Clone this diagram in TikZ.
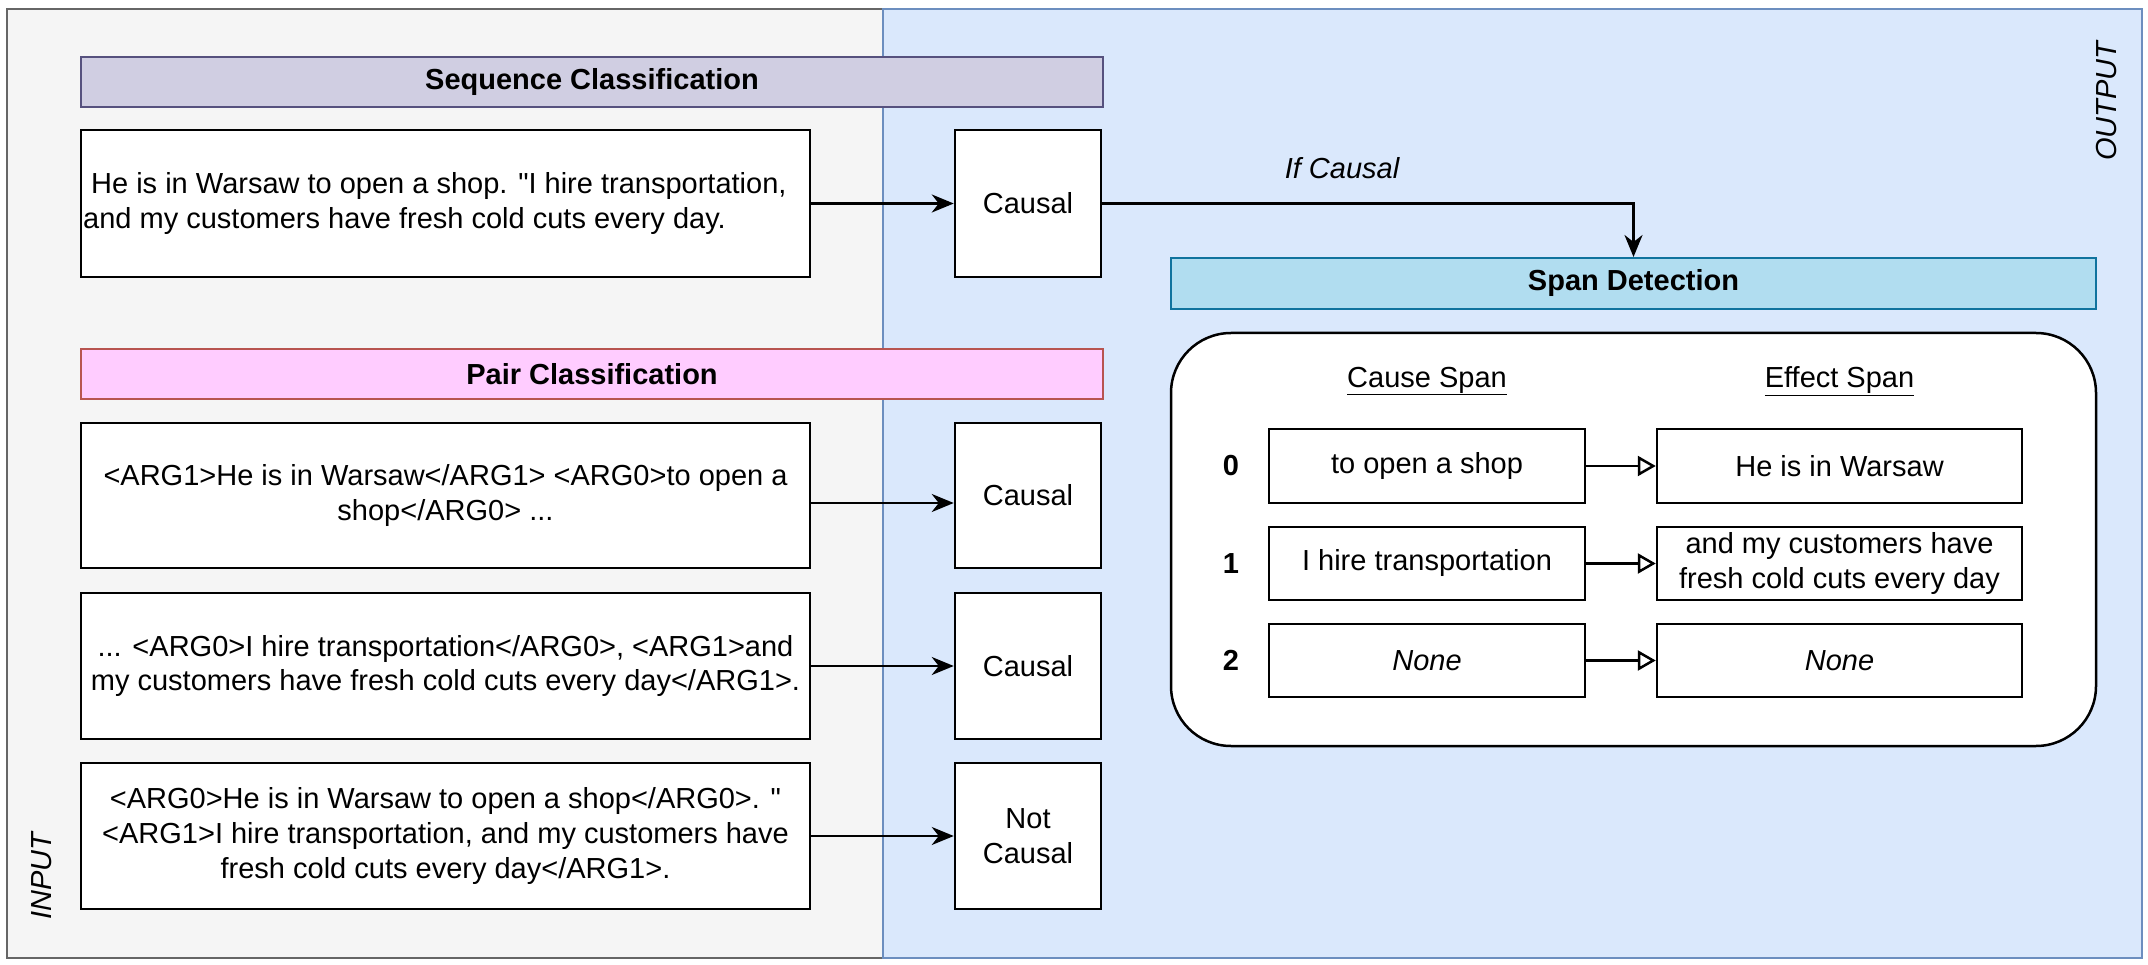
\documentclass[tikz,border=0pt]{standalone}
\usepackage{fontspec}
\setmainfont{Liberation Sans}[Ligatures=TeXOff]
\usetikzlibrary{arrows.meta}
\definecolor{grayfill}{HTML}{F5F5F5}
\definecolor{grayline}{HTML}{666666}
\definecolor{bluefill}{HTML}{DAE8FC}
\definecolor{blueline}{HTML}{6C8EBF}
\definecolor{seqfill}{HTML}{D0CEE2}
\definecolor{seqline}{HTML}{56517E}
\definecolor{pairfill}{HTML}{FFCCFF}
\definecolor{pairline}{HTML}{B85450}
\definecolor{spanfill}{HTML}{B1DDF0}
\definecolor{spanline}{HTML}{10739E}
\begin{document}
\begin{tikzpicture}[x=1pt,y=-1pt,
  txt/.style={font=\fontsize{29}{35}\selectfont, text=black},
  box/.style={txt, draw=black, line width=2.5pt, fill=white, inner sep=0pt, align=center},
  bar/.style={txt, font=\fontsize{29}{35}\selectfont\bfseries, line width=2pt, inner sep=0pt},
  arr/.style={line width=2.5pt, -{Stealth[length=22pt,width=18pt,inset=7pt]}},
  oarr/.style={line width=2.5pt, -{Triangle[open,length=18pt,width=20pt,line width=2.5pt]}}
]
\useasboundingbox (0,0) rectangle (2148,965);
% panels
\node[draw=grayline, fill=grayfill, line width=2pt, minimum width=876pt, minimum height=949pt, inner sep=0pt] (inpanel) at (445,483.5) {};
\node[draw=blueline, fill=bluefill, line width=2pt, minimum width=1259pt, minimum height=949pt, inner sep=0pt] (outpanel) at (1512.5,483.5) {};
\node[txt, font=\fontsize{29}{35}\selectfont\itshape, rotate=90] (inlbl) at (42,876) {INPUT};
\node[txt, font=\fontsize{29}{35}\selectfont\itshape, rotate=90] (outlbl) at (2106,101) {OUTPUT};
% bars
\node[bar, draw=seqline, fill=seqfill, minimum width=1022pt, minimum height=50pt] (seqbar) at (592,82) {Sequence Classification};
\node[bar, draw=pairline, fill=pairfill, minimum width=1022pt, minimum height=50pt] (pairbar) at (592,374) {Pair Classification};
\node[bar, draw=spanline, fill=spanfill, minimum width=925pt, minimum height=51pt] (spanbar) at (1633.5,283.5) {Span Detection};
% sequence classification
\node[box, minimum width=729pt, minimum height=147pt] (s1) at (445.5,203.5) {};
\node[txt, align=left, anchor=west, inner sep=0pt] (s1t) at (83,204) {\hspace{8pt}He is in Warsaw to open a shop. "I hire transportation,\\and my customers have fresh cold cuts every day.};
\node[box, minimum width=146pt, minimum height=147pt] (c0) at (1028,203.5) {Causal};
\draw[arr] (s1) -- (c0);
% pair classification
\node[box, minimum width=729pt, minimum height=145pt] (p1) at (445.5,495.5) {<ARG1>He is in Warsaw</ARG1> <ARG0>to open a\\shop</ARG0> ...};
\node[box, minimum width=146pt, minimum height=145pt] (c1) at (1028,495.5) {Causal};
\node[box, minimum width=729pt, minimum height=146pt] (p2) at (445.5,666) {... <ARG0>I hire transportation</ARG0>, <ARG1>and\\my customers have fresh cold cuts every day</ARG1>.};
\node[box, minimum width=146pt, minimum height=146pt] (c2) at (1028,666) {Causal};
\node[box, minimum width=729pt, minimum height=146pt] (p3) at (445.5,836) {<ARG0>He is in Warsaw to open a shop</ARG0>. "\\<ARG1>I hire transportation, and my customers have\\fresh cold cuts every day</ARG1>.};
\node[box, minimum width=146pt, minimum height=146pt] (c3) at (1028,836) {Not\\Causal};
\draw[arr] ([yshift=-7.5pt]p1.east) -- ([yshift=-7.5pt]c1.west);
\draw[arr] (p2) -- (c2);
\draw[arr] (p3) -- (c3);
% if causal
\draw[arr] (c0.east) -| (spanbar.north);
\node[txt, font=\fontsize{29}{35}\selectfont\itshape] (ifc) at (1342,168) {If Causal};
% span detection
\node[draw=black, line width=2.5pt, fill=white, rounded corners=60pt, minimum width=925pt, minimum height=413pt, inner sep=0pt] (round) at (1633.5,539.5) {};
\node[txt] (ch) at (1427,381) {\underline{Cause Span}};
\node[txt] (eh) at (1839.5,381) {\underline{Effect Span}};
\node[txt, font=\fontsize{29}{35}\selectfont\bfseries] (n0) at (1231,466) {0};
\node[txt, font=\fontsize{29}{35}\selectfont\bfseries] (n1) at (1231,563.5) {1};
\node[txt, font=\fontsize{29}{35}\selectfont\bfseries] (n2) at (1231,660.5) {2};
\node[box, minimum width=316pt, minimum height=74pt] (ca0) at (1427,466) {to open a shop};
\node[box, minimum width=365pt, minimum height=74pt] (ef0) at (1839.5,466) {He is in Warsaw};
\node[box, minimum width=316pt, minimum height=73pt] (ca1) at (1427,563.5) {I hire transportation};
\node[box, minimum width=365pt, minimum height=73pt] (ef1) at (1839.5,563.5) {and my customers have\\fresh cold cuts every day};
\node[box, minimum width=316pt, minimum height=73pt] (ca2) at (1427,660.5) {\itshape None};
\node[box, minimum width=365pt, minimum height=73pt] (ef2) at (1839.5,660.5) {\itshape None};
\draw[oarr] (ca0) -- (ef0);
\draw[oarr] (ca1) -- (ef1);
\draw[oarr] (ca2) -- (ef2);
\end{tikzpicture}
\end{document}
